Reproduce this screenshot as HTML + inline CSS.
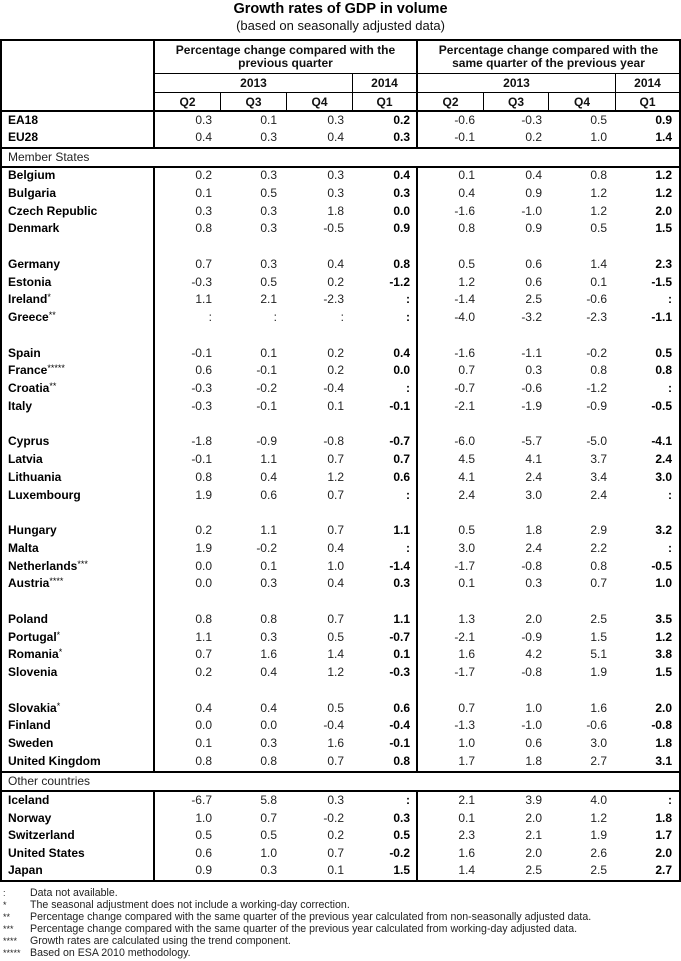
<!DOCTYPE html>
<html>
<head>
<meta charset="utf-8">
<style>
html,body{margin:0;padding:0;background:#fff;}
body{width:681px;height:961px;position:relative;overflow:hidden;font-family:"Liberation Sans",Arial,sans-serif;color:#111;}
.ln{position:absolute;background:#000;}
.t{position:absolute;white-space:nowrap;}
.hd{position:absolute;font-weight:bold;font-size:12px;text-align:center;display:flex;align-items:center;justify-content:center;}
.blk{position:absolute;left:0;width:681px;font-size:12px;}
.r{position:relative;height:17.76px;line-height:17.76px;white-space:nowrap;}
.r span{position:absolute;top:0;width:60px;text-align:right;color:#222;}
.r span.l{left:8px;width:auto;text-align:left;font-weight:bold;color:#000;}
.r span.l i{font-style:normal;font-weight:normal;font-size:9px;line-height:0;position:relative;top:-3px;}
.a{left:152px}.b{left:217px}.c{left:284px}.d{left:350px;font-weight:bold;color:#000 !important}
.e{left:415px}.f{left:482px}.g{left:547px}.h{left:612px;font-weight:bold;color:#000 !important}
.fn{position:absolute;left:0;width:681px;font-size:10.6px;color:#222;}
.fn div{position:relative;height:12px;line-height:12px;white-space:nowrap;}
.fn b{position:absolute;left:3px;font-weight:normal;font-size:9px;}
.fn em{position:absolute;left:30px;font-style:normal;}
</style>
</head>
<body>

<!-- Title -->
<div class="t" style="left:0;width:681px;top:0;height:18px;line-height:18px;text-align:center;font-weight:bold;font-size:14.5px;color:#000;">Growth rates of GDP in volume</div>
<div class="t" style="left:0;width:681px;top:18px;height:16px;line-height:16px;text-align:center;font-size:13px;color:#111;">(based on seasonally adjusted data)</div>

<!-- Outer borders -->
<div class="ln" style="left:0;top:39px;width:681px;height:2px;"></div>
<div class="ln" style="left:0;top:880px;width:681px;height:2px;"></div>
<div class="ln" style="left:0;top:39px;width:2px;height:843px;"></div>
<div class="ln" style="left:679px;top:39px;width:2px;height:843px;"></div>

<!-- Horizontal separators -->
<div class="ln" style="left:0;top:109.5px;width:681px;height:2px;"></div>
<div class="ln" style="left:0;top:147px;width:681px;height:2px;"></div>
<div class="ln" style="left:0;top:166px;width:681px;height:2px;"></div>
<div class="ln" style="left:0;top:771px;width:681px;height:2px;"></div>
<div class="ln" style="left:0;top:790px;width:681px;height:2px;"></div>

<!-- Header thin lines -->
<div class="ln" style="left:154px;top:72.5px;width:526px;height:1.5px;"></div>
<div class="ln" style="left:154px;top:91.5px;width:526px;height:1.5px;"></div>
<div class="ln" style="left:351.5px;top:73px;width:1.5px;height:37px;"></div>
<div class="ln" style="left:614.5px;top:73px;width:1.5px;height:37px;"></div>
<div class="ln" style="left:219.5px;top:92px;width:1.5px;height:18px;"></div>
<div class="ln" style="left:285.5px;top:92px;width:1.5px;height:18px;"></div>
<div class="ln" style="left:482.5px;top:92px;width:1.5px;height:18px;"></div>
<div class="ln" style="left:547.5px;top:92px;width:1.5px;height:18px;"></div>

<!-- Thick verticals -->
<div class="ln" style="left:153px;top:39px;width:2px;height:110px;"></div>
<div class="ln" style="left:153px;top:166px;width:2px;height:607px;"></div>
<div class="ln" style="left:153px;top:790px;width:2px;height:92px;"></div>
<div class="ln" style="left:416px;top:39px;width:2px;height:110px;"></div>
<div class="ln" style="left:416px;top:166px;width:2px;height:607px;"></div>
<div class="ln" style="left:416px;top:790px;width:2px;height:92px;"></div>

<!-- Header texts -->
<div class="hd" style="left:155px;width:261px;top:41px;height:32px;line-height:13.3px;">Percentage change compared with the<br>previous quarter</div>
<div class="hd" style="left:418px;width:261px;top:41px;height:32px;line-height:13.3px;">Percentage change compared with the<br>same quarter of the previous year</div>

<div class="hd" style="left:155px;width:197px;top:74px;height:18px;">2013</div>
<div class="hd" style="left:353px;width:63px;top:74px;height:18px;">2014</div>
<div class="hd" style="left:418px;width:197px;top:74px;height:18px;">2013</div>
<div class="hd" style="left:616px;width:63px;top:74px;height:18px;">2014</div>

<div class="hd" style="left:155px;width:65px;top:93px;height:17px;">Q2</div>
<div class="hd" style="left:221px;width:65px;top:93px;height:17px;">Q3</div>
<div class="hd" style="left:287px;width:65px;top:93px;height:17px;">Q4</div>
<div class="hd" style="left:353px;width:63px;top:93px;height:17px;">Q1</div>
<div class="hd" style="left:418px;width:65px;top:93px;height:17px;">Q2</div>
<div class="hd" style="left:484px;width:64px;top:93px;height:17px;">Q3</div>
<div class="hd" style="left:549px;width:66px;top:93px;height:17px;">Q4</div>
<div class="hd" style="left:616px;width:63px;top:93px;height:17px;">Q1</div>

<!-- EA18 / EU28 -->
<div class="blk" style="top:111.5px;">
<div class="r"><span class="l">EA18</span><span class="a">0.3</span><span class="b">0.1</span><span class="c">0.3</span><span class="d">0.2</span><span class="e">-0.6</span><span class="f">-0.3</span><span class="g">0.5</span><span class="h">0.9</span></div>
<div class="r"><span class="l">EU28</span><span class="a">0.4</span><span class="b">0.3</span><span class="c">0.4</span><span class="d">0.3</span><span class="e">-0.1</span><span class="f">0.2</span><span class="g">1.0</span><span class="h">1.4</span></div>
</div>

<!-- Member States label -->
<div class="t" style="left:8px;top:149px;height:17px;line-height:17px;font-size:12px;color:#222;">Member States</div>

<!-- Member states body -->
<div class="blk" style="top:167px;">
<div class="r"><span class="l">Belgium</span><span class="a">0.2</span><span class="b">0.3</span><span class="c">0.3</span><span class="d">0.4</span><span class="e">0.1</span><span class="f">0.4</span><span class="g">0.8</span><span class="h">1.2</span></div>
<div class="r"><span class="l">Bulgaria</span><span class="a">0.1</span><span class="b">0.5</span><span class="c">0.3</span><span class="d">0.3</span><span class="e">0.4</span><span class="f">0.9</span><span class="g">1.2</span><span class="h">1.2</span></div>
<div class="r"><span class="l">Czech Republic</span><span class="a">0.3</span><span class="b">0.3</span><span class="c">1.8</span><span class="d">0.0</span><span class="e">-1.6</span><span class="f">-1.0</span><span class="g">1.2</span><span class="h">2.0</span></div>
<div class="r"><span class="l">Denmark</span><span class="a">0.8</span><span class="b">0.3</span><span class="c">-0.5</span><span class="d">0.9</span><span class="e">0.8</span><span class="f">0.9</span><span class="g">0.5</span><span class="h">1.5</span></div>
<div class="r"></div>
<div class="r"><span class="l">Germany</span><span class="a">0.7</span><span class="b">0.3</span><span class="c">0.4</span><span class="d">0.8</span><span class="e">0.5</span><span class="f">0.6</span><span class="g">1.4</span><span class="h">2.3</span></div>
<div class="r"><span class="l">Estonia</span><span class="a">-0.3</span><span class="b">0.5</span><span class="c">0.2</span><span class="d">-1.2</span><span class="e">1.2</span><span class="f">0.6</span><span class="g">0.1</span><span class="h">-1.5</span></div>
<div class="r"><span class="l">Ireland<i>*</i></span><span class="a">1.1</span><span class="b">2.1</span><span class="c">-2.3</span><span class="d">:</span><span class="e">-1.4</span><span class="f">2.5</span><span class="g">-0.6</span><span class="h">:</span></div>
<div class="r"><span class="l">Greece<i>**</i></span><span class="a">:</span><span class="b">:</span><span class="c">:</span><span class="d">:</span><span class="e">-4.0</span><span class="f">-3.2</span><span class="g">-2.3</span><span class="h">-1.1</span></div>
<div class="r"></div>
<div class="r"><span class="l">Spain</span><span class="a">-0.1</span><span class="b">0.1</span><span class="c">0.2</span><span class="d">0.4</span><span class="e">-1.6</span><span class="f">-1.1</span><span class="g">-0.2</span><span class="h">0.5</span></div>
<div class="r"><span class="l">France<i>*****</i></span><span class="a">0.6</span><span class="b">-0.1</span><span class="c">0.2</span><span class="d">0.0</span><span class="e">0.7</span><span class="f">0.3</span><span class="g">0.8</span><span class="h">0.8</span></div>
<div class="r"><span class="l">Croatia<i>**</i></span><span class="a">-0.3</span><span class="b">-0.2</span><span class="c">-0.4</span><span class="d">:</span><span class="e">-0.7</span><span class="f">-0.6</span><span class="g">-1.2</span><span class="h">:</span></div>
<div class="r"><span class="l">Italy</span><span class="a">-0.3</span><span class="b">-0.1</span><span class="c">0.1</span><span class="d">-0.1</span><span class="e">-2.1</span><span class="f">-1.9</span><span class="g">-0.9</span><span class="h">-0.5</span></div>
<div class="r"></div>
<div class="r"><span class="l">Cyprus</span><span class="a">-1.8</span><span class="b">-0.9</span><span class="c">-0.8</span><span class="d">-0.7</span><span class="e">-6.0</span><span class="f">-5.7</span><span class="g">-5.0</span><span class="h">-4.1</span></div>
<div class="r"><span class="l">Latvia</span><span class="a">-0.1</span><span class="b">1.1</span><span class="c">0.7</span><span class="d">0.7</span><span class="e">4.5</span><span class="f">4.1</span><span class="g">3.7</span><span class="h">2.4</span></div>
<div class="r"><span class="l">Lithuania</span><span class="a">0.8</span><span class="b">0.4</span><span class="c">1.2</span><span class="d">0.6</span><span class="e">4.1</span><span class="f">2.4</span><span class="g">3.4</span><span class="h">3.0</span></div>
<div class="r"><span class="l">Luxembourg</span><span class="a">1.9</span><span class="b">0.6</span><span class="c">0.7</span><span class="d">:</span><span class="e">2.4</span><span class="f">3.0</span><span class="g">2.4</span><span class="h">:</span></div>
<div class="r"></div>
<div class="r"><span class="l">Hungary</span><span class="a">0.2</span><span class="b">1.1</span><span class="c">0.7</span><span class="d">1.1</span><span class="e">0.5</span><span class="f">1.8</span><span class="g">2.9</span><span class="h">3.2</span></div>
<div class="r"><span class="l">Malta</span><span class="a">1.9</span><span class="b">-0.2</span><span class="c">0.4</span><span class="d">:</span><span class="e">3.0</span><span class="f">2.4</span><span class="g">2.2</span><span class="h">:</span></div>
<div class="r"><span class="l">Netherlands<i>***</i></span><span class="a">0.0</span><span class="b">0.1</span><span class="c">1.0</span><span class="d">-1.4</span><span class="e">-1.7</span><span class="f">-0.8</span><span class="g">0.8</span><span class="h">-0.5</span></div>
<div class="r"><span class="l">Austria<i>****</i></span><span class="a">0.0</span><span class="b">0.3</span><span class="c">0.4</span><span class="d">0.3</span><span class="e">0.1</span><span class="f">0.3</span><span class="g">0.7</span><span class="h">1.0</span></div>
<div class="r"></div>
<div class="r"><span class="l">Poland</span><span class="a">0.8</span><span class="b">0.8</span><span class="c">0.7</span><span class="d">1.1</span><span class="e">1.3</span><span class="f">2.0</span><span class="g">2.5</span><span class="h">3.5</span></div>
<div class="r"><span class="l">Portugal<i>*</i></span><span class="a">1.1</span><span class="b">0.3</span><span class="c">0.5</span><span class="d">-0.7</span><span class="e">-2.1</span><span class="f">-0.9</span><span class="g">1.5</span><span class="h">1.2</span></div>
<div class="r"><span class="l">Romania<i>*</i></span><span class="a">0.7</span><span class="b">1.6</span><span class="c">1.4</span><span class="d">0.1</span><span class="e">1.6</span><span class="f">4.2</span><span class="g">5.1</span><span class="h">3.8</span></div>
<div class="r"><span class="l">Slovenia</span><span class="a">0.2</span><span class="b">0.4</span><span class="c">1.2</span><span class="d">-0.3</span><span class="e">-1.7</span><span class="f">-0.8</span><span class="g">1.9</span><span class="h">1.5</span></div>
<div class="r"></div>
<div class="r"><span class="l">Slovakia<i>*</i></span><span class="a">0.4</span><span class="b">0.4</span><span class="c">0.5</span><span class="d">0.6</span><span class="e">0.7</span><span class="f">1.0</span><span class="g">1.6</span><span class="h">2.0</span></div>
<div class="r"><span class="l">Finland</span><span class="a">0.0</span><span class="b">0.0</span><span class="c">-0.4</span><span class="d">-0.4</span><span class="e">-1.3</span><span class="f">-1.0</span><span class="g">-0.6</span><span class="h">-0.8</span></div>
<div class="r"><span class="l">Sweden</span><span class="a">0.1</span><span class="b">0.3</span><span class="c">1.6</span><span class="d">-0.1</span><span class="e">1.0</span><span class="f">0.6</span><span class="g">3.0</span><span class="h">1.8</span></div>
<div class="r"><span class="l">United Kingdom</span><span class="a">0.8</span><span class="b">0.8</span><span class="c">0.7</span><span class="d">0.8</span><span class="e">1.7</span><span class="f">1.8</span><span class="g">2.7</span><span class="h">3.1</span></div>
</div>

<!-- Other countries label -->
<div class="t" style="left:8px;top:773px;height:17px;line-height:17px;font-size:12px;color:#222;">Other countries</div>

<!-- Other countries body -->
<div class="blk" style="top:792px;">
<div class="r" style="height:17.6px;line-height:17.6px;"><span class="l">Iceland</span><span class="a">-6.7</span><span class="b">5.8</span><span class="c">0.3</span><span class="d">:</span><span class="e">2.1</span><span class="f">3.9</span><span class="g">4.0</span><span class="h">:</span></div>
<div class="r" style="height:17.6px;line-height:17.6px;"><span class="l">Norway</span><span class="a">1.0</span><span class="b">0.7</span><span class="c">-0.2</span><span class="d">0.3</span><span class="e">0.1</span><span class="f">2.0</span><span class="g">1.2</span><span class="h">1.8</span></div>
<div class="r" style="height:17.6px;line-height:17.6px;"><span class="l">Switzerland</span><span class="a">0.5</span><span class="b">0.5</span><span class="c">0.2</span><span class="d">0.5</span><span class="e">2.3</span><span class="f">2.1</span><span class="g">1.9</span><span class="h">1.7</span></div>
<div class="r" style="height:17.6px;line-height:17.6px;"><span class="l">United States</span><span class="a">0.6</span><span class="b">1.0</span><span class="c">0.7</span><span class="d">-0.2</span><span class="e">1.6</span><span class="f">2.0</span><span class="g">2.6</span><span class="h">2.0</span></div>
<div class="r" style="height:17.6px;line-height:17.6px;"><span class="l">Japan</span><span class="a">0.9</span><span class="b">0.3</span><span class="c">0.1</span><span class="d">1.5</span><span class="e">1.4</span><span class="f">2.5</span><span class="g">2.5</span><span class="h">2.7</span></div>
</div>

<!-- Footnotes -->
<div class="fn" style="top:886.7px;">
<div><b>:</b><em>Data not available.</em></div>
<div><b>*</b><em>The seasonal adjustment does not include a working-day correction.</em></div>
<div><b>**</b><em>Percentage change compared with the same quarter of the previous year calculated from non-seasonally adjusted data.</em></div>
<div><b>***</b><em>Percentage change compared with the same quarter of the previous year calculated from working-day adjusted data.</em></div>
<div><b>****</b><em>Growth rates are calculated using the trend component.</em></div>
<div><b>*****</b><em>Based on ESA 2010 methodology.</em></div>
</div>

</body>
</html>
